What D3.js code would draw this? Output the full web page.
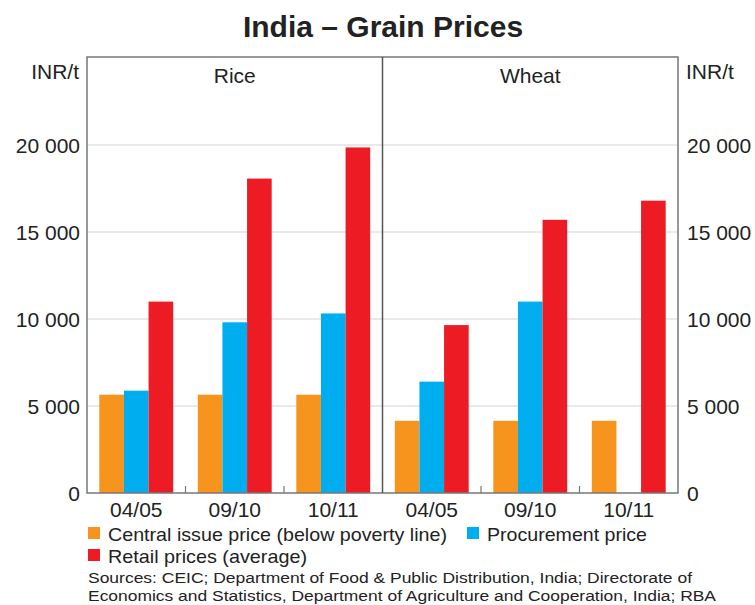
<!DOCTYPE html>
<html>
<head>
<meta charset="utf-8">
<script src="https://cdn.jsdelivr.net/npm/d3@7"></script>
<style>
  body { margin: 0; background: #fff; }
  text { font-family: Arial, "Liberation Sans", sans-serif; fill: #222; }
</style>
</head>
<body>
<div id="chart"></div>
<script>
// Chart data
const panels = ["Rice", "Wheat"];
const years = ["04/05", "09/10", "10/11"];
const seriesNames = ["Central issue price (below poverty line)", "Procurement price", "Retail prices (average)"];
const seriesColors = ["#F7941D", "#00AEEF", "#ED1C24"];
const riceCentral = [5650, 5650, 5650];
const riceProcurement = [5880, 9810, 10320];
const riceRetail = [11000, 18070, 19860];
const wheatCentral = [4150, 4150, 4150];
const wheatProcurement = [6400, 11000, null];
const wheatRetail = [9650, 15700, 16800];
const yTicks = [0, 5000, 10000, 15000, 20000];
const sources = [
    "Sources: CEIC; Department of Food & Public Distribution, India; Directorate of",
    "Economics and Statistics, Department of Agriculture and Cooperation, India; RBA"
];

const panelData = {
    Rice: [riceCentral, riceProcurement, riceRetail],
    Wheat: [wheatCentral, wheatProcurement, wheatRetail]
};

const width = 755, height = 605;
const plotLeft = 87, plotRight = 678, plotTop = 57, plotBottom = 493;
const mid = (plotLeft + plotRight) / 2;

const svg = d3.select("#chart")
    .append("svg")
    .attr("width", width)
    .attr("height", height);

const y = d3.scaleLinear().domain([0, 25000]).range([plotBottom, plotTop + 1]);
const fmt = v => d3.format(",")(v).replace(/,/g, " ");

// Title
svg.append("text")
    .attr("x", 383)
    .attr("y", 37)
    .attr("text-anchor", "middle")
    .style("font-size", "30px")
    .style("font-weight", "bold")
    .text("India – Grain Prices");

// Gridlines
svg.selectAll(".grid")
    .data(yTicks.filter(d => d > 0))
    .join("line")
    .attr("class", "grid")
    .attr("x1", plotLeft)
    .attr("x2", plotRight)
    .attr("y1", d => y(d))
    .attr("y2", d => y(d))
    .style("stroke", "#d4d4d4")
    .style("stroke-width", 1.2);

// Panels
const panelX = d3.scaleBand().domain(panels).range([plotLeft, plotRight]);

panels.forEach(p => {
    const x0 = d3.scaleBand()
        .domain(years)
        .range([panelX(p), panelX(p) + panelX.bandwidth()])
        .paddingInner(0.25)
        .paddingOuter(0.125);
    const x1 = d3.scaleBand()
        .domain(d3.range(seriesNames.length))
        .range([0, x0.bandwidth()]);

    const g = svg.append("g");
    seriesNames.forEach((s, si) => {
        g.selectAll(".bar-" + si)
            .data(panelData[p][si].map((v, i) => ({ year: years[i], v })).filter(d => d.v != null))
            .join("rect")
            .attr("class", "bar-" + si)
            .attr("x", d => x0(d.year) + x1(si))
            .attr("width", x1.bandwidth())
            .attr("y", d => y(d.v))
            .attr("height", d => y(0) - y(d.v))
            .style("fill", seriesColors[si]);
    });

    // x labels
    g.selectAll(".xlab")
        .data(years)
        .join("text")
        .attr("x", d => x0(d) + x0.bandwidth() / 2)
        .attr("y", plotBottom + 24)
        .attr("text-anchor", "middle")
        .style("font-size", "21px")
        .text(d => d);

    // small ticks between groups
    g.selectAll(".xtick")
        .data(years.slice(1))
        .join("line")
        .attr("x1", d => x0(d) - x0.step() * x0.paddingInner() / 2)
        .attr("x2", d => x0(d) - x0.step() * x0.paddingInner() / 2)
        .attr("y1", plotBottom)
        .attr("y2", plotBottom - 7)
        .style("stroke", "#777")
        .style("stroke-width", 1.2);

    // panel title
    g.append("text")
        .attr("x", panelX(p) + panelX.bandwidth() / 2)
        .attr("y", 83)
        .attr("text-anchor", "middle")
        .style("font-size", "21px")
        .text(p);
});

// Frame
svg.append("rect")
    .attr("x", plotLeft)
    .attr("y", plotTop)
    .attr("width", plotRight - plotLeft)
    .attr("height", plotBottom - plotTop)
    .style("fill", "none")
    .style("stroke", "#777")
    .style("stroke-width", 1.5);
svg.append("line")
    .attr("x1", mid).attr("x2", mid)
    .attr("y1", plotTop).attr("y2", plotBottom)
    .style("stroke", "#555")
    .style("stroke-width", 1.5);

// Y axis labels
svg.selectAll(".ylab-l")
    .data(yTicks)
    .join("text")
    .attr("x", plotLeft - 7)
    .attr("y", d => y(d) + 7.5)
    .attr("text-anchor", "end")
    .style("font-size", "21px")
    .text(fmt);
svg.selectAll(".ylab-r")
    .data(yTicks)
    .join("text")
    .attr("x", plotRight + 9)
    .attr("y", d => y(d) + 7.5)
    .attr("text-anchor", "start")
    .style("font-size", "21px")
    .text(fmt);
svg.append("text")
    .attr("x", plotLeft - 8).attr("y", 79)
    .attr("text-anchor", "end")
    .style("font-size", "21px")
    .text("INR/t");
svg.append("text")
    .attr("x", plotRight + 8).attr("y", 79)
    .style("font-size", "21px")
    .text("INR/t");

// Legend
const legendPos = [[88, 533], [467, 533], [88, 555]];
const legendWidths = [339, 160, 199];
seriesNames.forEach((s, i) => {
    const [lx, ly] = legendPos[i];
    svg.append("rect")
        .attr("x", lx).attr("y", ly - 6)
        .attr("width", 12).attr("height", 12)
        .style("fill", seriesColors[i]);
    svg.append("text")
        .attr("x", lx + 20).attr("y", ly + 8)
        .attr("textLength", legendWidths[i])
        .attr("lengthAdjust", "spacingAndGlyphs")
        .style("font-size", "19px")
        .text(s);
});

// Sources
const sourceWidths = [604, 628];
svg.selectAll(".src")
    .data(sources)
    .join("text")
    .attr("class", "src")
    .attr("x", 88)
    .attr("y", (d, i) => 583 + i * 18)
    .attr("textLength", (d, i) => sourceWidths[i])
    .attr("lengthAdjust", "spacingAndGlyphs")
    .style("font-size", "15.5px")
    .text(d => d);
</script>
</body>
</html>
